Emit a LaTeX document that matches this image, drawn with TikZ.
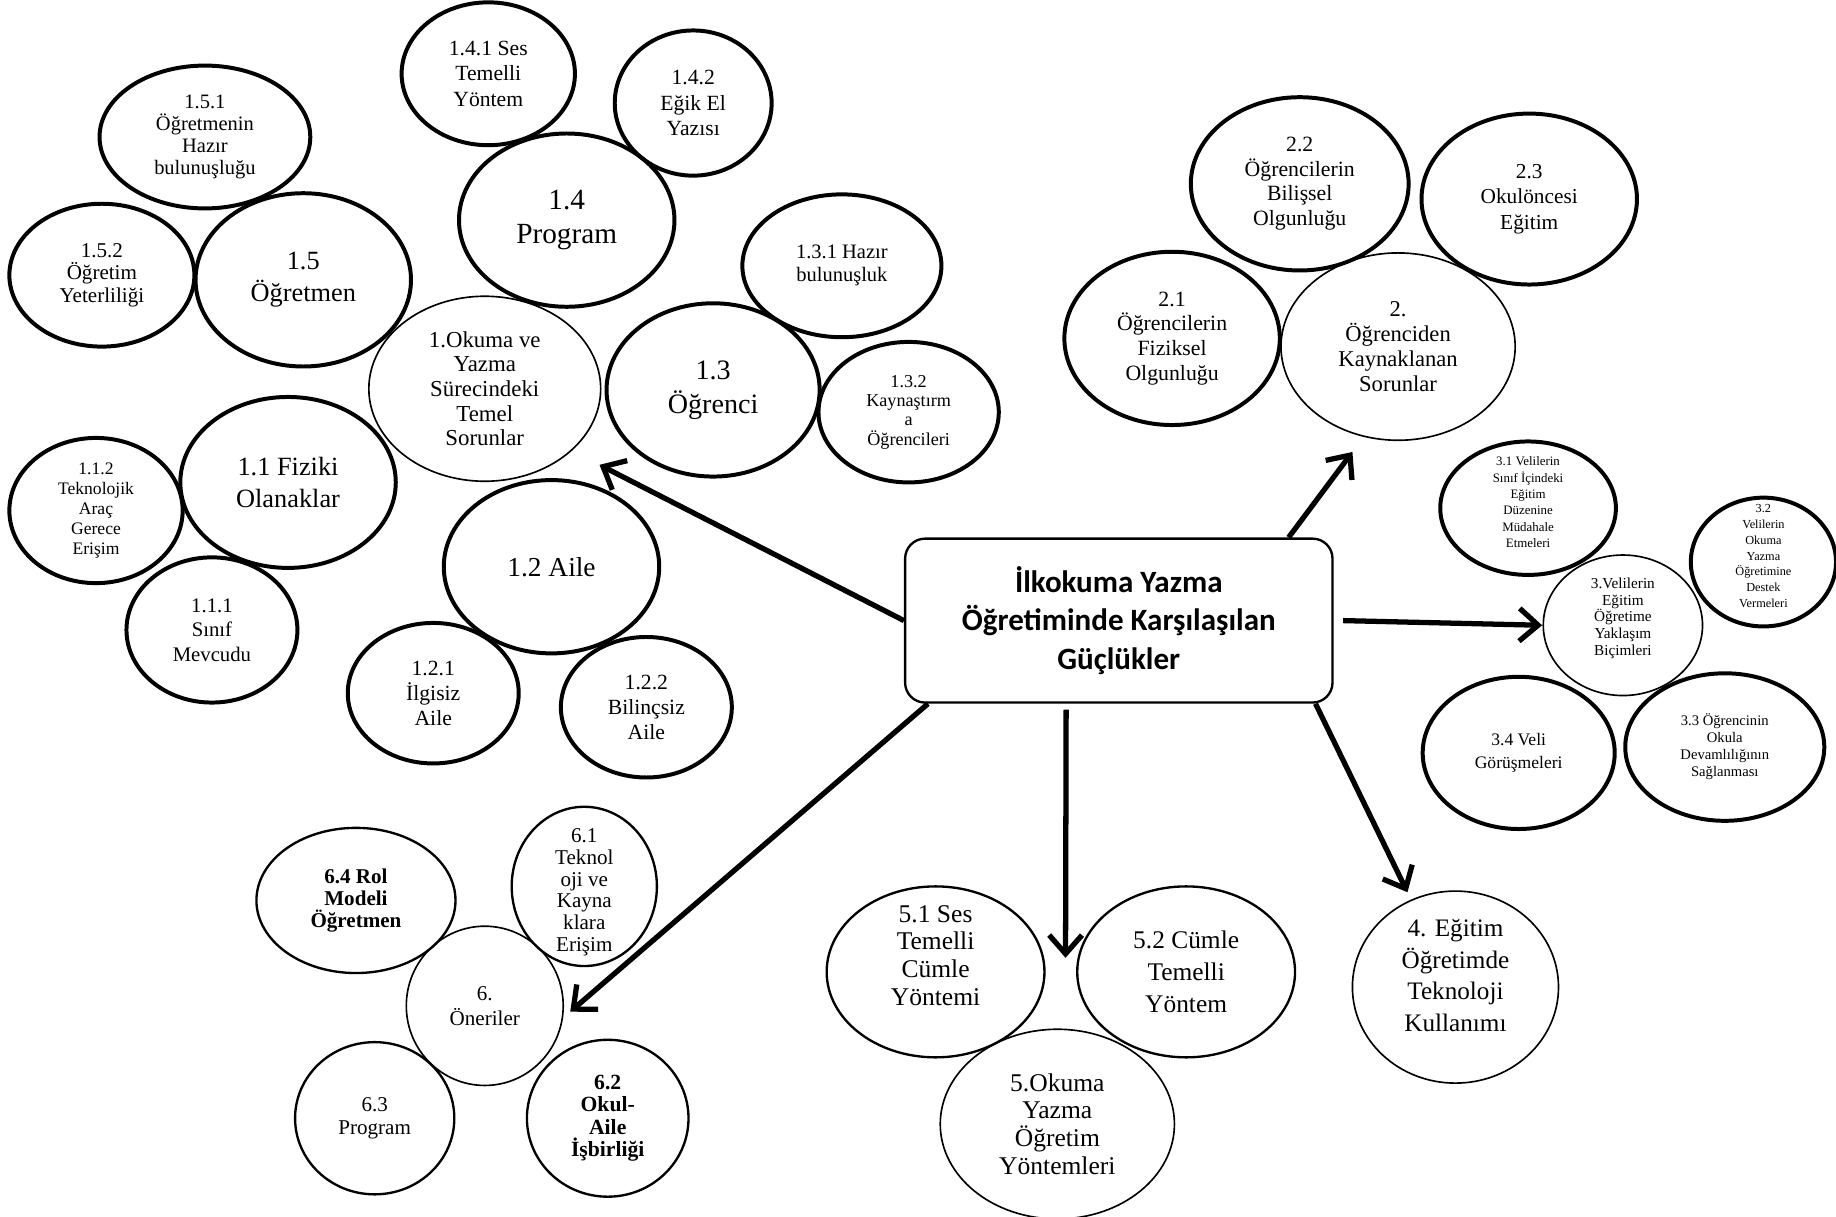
\documentclass[tikz,border=0pt]{standalone}
\usepackage{fontspec}
\setmainfont{Liberation Serif}
\newfontfamily\calib{Carlito}
\usetikzlibrary{shapes.geometric,arrows.meta}
\newcommand\fs[2]{\fontsize{#1}{#2}\selectfont}
\newcommand\bub[9][]{\node[#3,minimum width=#6pt,minimum height=#7pt,label={[align=center,font=#8,inner sep=0pt,#1]center:#9}] (#2) at (#4,#5) {};}
\begin{document}
\begin{tikzpicture}[x=1pt,y=-1pt,
  base/.style={ellipse,inner sep=0pt,draw=black},
  thickel/.style={base,line width=3.4pt},
  midel/.style={base,line width=2pt},
  thinel/.style={base,line width=1.4pt},
  titlebox/.style={draw=black,line width=2pt,rounded corners=17pt,minimum width=365pt,minimum height=140pt,inner sep=0pt,align=center,font=\calib\bfseries\fs{26.5}{32.5}},
  arr/.style={line width=4.5pt,-{Straight Barb[length=16pt,width=28pt]}}]
\fill[white] (0,0) rectangle (1568,1039);
\useasboundingbox (0,0) rectangle (1568,1039);

% group 1
\bub{n141}{thickel}{417}{63}{148}{122}{\fs{18.5}{21.5}}{1.4.1 Ses\\Temelli\\Yöntem}
\bub{n142}{thickel}{592}{88}{134}{124}{\fs{18.5}{22}}{1.4.2\\Eğik El\\Yazısı}
\bub{n14}{thickel}{484}{188}{184}{148}{\fs{25}{28.5}}{1.4\\Program}
\bub{n151}{thickel}{175}{117}{180}{122}{\fs{17.5}{19}}{1.5.1\\Öğretmenin\\Hazır\\bulunuşluğu}
\bub{n152}{thickel}{87}{235}{158}{122}{\fs{18}{19.5}}{1.5.2\\Öğretim\\Yeterliliği}
\bub{n15}{thickel}{259}{239}{184}{148}{\fs{22.5}{27}}{1.5\\Öğretmen}
\bub{n1}{thinel}{414}{332}{198}{158}{\fs{19.5}{21}}{1.Okuma ve\\Yazma\\Sürecindeki\\Temel\\Sorunlar}
\bub{n131}{thickel}{719}{227}{170}{122}{\fs{17.5}{19.5}}{1.3.1 Hazır\\bulunuşluk}
\bub{n13}{thickel}{609}{333}{182}{148}{\fs{24}{29}}{1.3\\Öğrenci}
\bub{n132}{thickel}{776}{352}{154}{120}{\fs{15.5}{16.5}}{1.3.2\\Kaynaştırm\\a\\Öğrencileri}
\bub{n11}{thickel}{246}{412}{184}{146}{\fs{22.5}{27}}{1.1 Fiziki\\Olanaklar}
\bub{n112}{thickel}{82}{436}{148}{124}{\fs{15}{17}}{1.1.2\\Teknolojik\\Araç\\Gerece\\Erişim}
\bub{n111}{thickel}{181}{538}{146}{124}{\fs{17.7}{21}}{1.1.1\\Sınıf\\Mevcudu}
\bub{n12}{thickel}{471}{484}{184}{148}{\fs{23.4}{27}}{1.2 Aile}
\bub{n121}{thickel}{370}{592}{146}{120}{\fs{18.5}{21.5}}{1.2.1\\İlgisiz\\Aile}
\bub{n122}{thickel}{552}{604}{146}{120}{\fs{18.5}{21.5}}{1.2.2\\Bilinçsiz\\Aile}

% group 2
\bub{n2}{thinel}{1194}{296}{200}{160}{\fs{19.3}{21.5}}{2.\\Öğrenciden\\Kaynaklanan\\Sorunlar}
\bub{n21}{thickel}{1001}{289}{184}{148}{\fs{18.6}{21}}{2.1\\Öğrencilerin\\Fiziksel\\Olgunluğu}
\bub{n22}{thickel}{1110}{157}{186}{148}{\fs{18.6}{21}}{2.2\\Öğrencilerin\\Bilişsel\\Olgunluğu}
\bub{n23}{thickel}{1306}{170}{184}{146}{\fs{18.2}{22}}{2.3\\Okulöncesi\\Eğitim}

% group 3
\bub[yshift=6pt]{n3}{thinel}{1386}{534}{136}{120}{\fs{13}{14.4}}{3.Velilerin\\Eğitim\\Öğretime\\Yaklaşım\\Biçimleri}
\bub[yshift=5pt]{n31}{thickel}{1305}{434}{150}{114}{\fs{11}{14}}{3.1 Velilerin\\Sınıf İçindeki\\Eğitim\\Düzenine\\Müdahale\\Etmeleri}
\bub[yshift=5pt]{n32}{thickel}{1506}{480}{124}{110}{\fs{10.5}{13.5}}{3.2\\Velilerin\\Okuma\\Yazma\\Öğretimine\\Destek\\Vermeleri}
\bub{n33}{thickel}{1473}{638}{170}{126}{\fs{12.5}{14.5}}{3.3 Öğrencinin\\Okula\\Devamlılığının\\Sağlanması}
\bub{n34}{thickel}{1297}{643}{164}{130}{\fs{15}{20}}{3.4 Veli\\Görüşmeleri}

% group 4
\bub[yshift=10pt]{n4}{thinel}{1243}{843}{176}{164}{\fs{21.5}{27}}{4. Eğitim\\Öğretimde\\Teknoloji\\Kullanımı}

% group 5
\bub[yshift=14pt]{n51}{midel}{799}{830}{186}{146}{\fs{21.8}{23.7}}{5.1 Ses\\Temelli\\Cümle\\Yöntemi}
\bub{n52}{midel}{1013}{830}{186}{146}{\fs{21.7}{27}}{5.2 Cümle\\Temelli\\Yöntem}
\bub{n5}{thinel}{903}{960}{200}{162}{\fs{21.8}{23.7}}{5.Okuma\\Yazma\\Öğretim\\Yöntemleri}

% group 6
\bub{n6}{thinel}{414}{859}{134}{136}{\fs{18}{21}}{6.\\Öneriler}
\bub[yshift=-5pt]{n61}{midel}{499}{757}{124}{136}{\fs{18}{18.7}}{6.1\\Teknol\\oji ve\\Kayna\\klara\\Erişim}
\bub{n62}{midel}{519}{955}{138}{134}{\bfseries\fs{18.5}{19}}{6.2\\Okul-\\Aile\\İşbirliği}
\bub{n63}{midel}{320}{955}{136}{130}{\fs{18}{20}}{6.3\\Program}
\bub{n64}{midel}{304}{769}{170}{124}{\bfseries\fs{18}{18.5}}{6.4 Rol\\Modeli\\Öğretmen}

% centre
\node[titlebox] (box) at (955.5,530) {İlkokuma Yazma\\Öğretiminde Karşılaşılan\\Güçlükler};

% arrow tips
\coordinate (t1) at (512,397);
\coordinate (t2) at (1155,386);
\coordinate (t3) at (1317,534);
\coordinate (t4) at (1202,762);
\coordinate (t5) at (910,818);
\coordinate (t6) at (487,864);

\draw[arr] (box.west) -- (t1);
\draw[arr] ([xshift=145pt]box.north) -- (t2);
\draw[arr] ([xshift=8pt]box.east) -- (t3);
\draw[arr] ([xshift=168pt]box.south) -- (t4);
\draw[arr] ([xshift=-45pt,yshift=-5pt]box.south) -- (t5);
\draw[arr] ([xshift=-163pt]box.south) -- (t6);
\end{tikzpicture}
\end{document}
